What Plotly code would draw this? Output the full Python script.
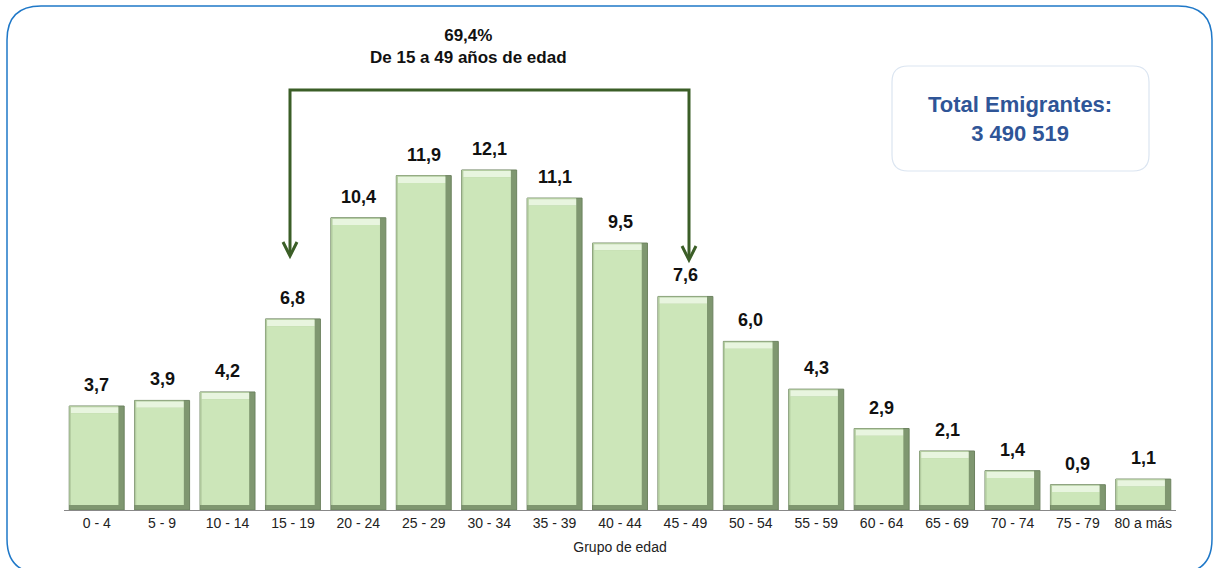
import plotly.graph_objects as go

categories = ["0 - 4", "5 - 9", "10 - 14", "15 - 19", "20 - 24", "25 - 29", "30 - 34",
              "35 - 39", "40 - 44", "45 - 49", "50 - 54", "55 - 59", "60 - 64",
              "65 - 69", "70 - 74", "75 - 79", "80 a más"]
values = [3.7, 3.9, 4.2, 6.8, 10.4, 11.9, 12.1, 11.1, 9.5, 7.6, 6.0, 4.3, 2.9, 2.1, 1.4, 0.9, 1.1]
labels = [f"{v:.1f}".replace(".", ",") for v in values]
bracket_text = "69,4%<br>De 15 a 49 años de edad"
total_text = "Total Emigrantes:<br>3 490 519"
x_title = "Grupo de edad"

W, H = 1213, 568
ML, MR, MT, MB = 64, 37, 40, 58
PW, PH = W - ML - MR, H - MT - MB
YMAX = PH / 28.1

def px(x):
    return (x - ML) / PW

def py(y):
    return (H - MB - y) / PH

NARROW = "Liberation Sans Narrow, Arial Narrow, Liberation Sans, Arial"

# bevelled bar styling (sizes in axis units)
BW = 0.84          # bar width (category units)
SIDE = 0.09        # right bevel width
BOT = 0.18         # bottom bevel height (value units)
TOP = 0.26         # top bevel height (value units)
LEFT = 0.025       # left bevel width

fig = go.Figure()
# base (right + bottom darker bevel)
fig.add_trace(go.Bar(
    x=categories, y=values, width=BW,
    marker=dict(color="#7f9770", line=dict(color="#6d8360", width=1)),
    hoverinfo="x+y",
))
# left/top mid tone
fig.add_trace(go.Bar(
    x=categories, y=[v - BOT for v in values], base=BOT,
    width=BW - SIDE, offset=-BW / 2,
    marker=dict(color="#b3cca0", line=dict(width=0)), hoverinfo="skip",
))
# top highlight
fig.add_trace(go.Bar(
    x=categories, y=[TOP - 0.04] * len(values), base=[v - TOP for v in values],
    width=BW - SIDE - LEFT, offset=-BW / 2 + LEFT,
    marker=dict(color="#e8f5df", line=dict(width=0)), hoverinfo="skip",
))
# face
fig.add_trace(go.Bar(
    x=categories, y=[v - TOP - BOT for v in values], base=BOT,
    width=BW - SIDE - LEFT, offset=-BW / 2 + LEFT,
    marker=dict(color="#cce6b9", line=dict(width=0)), hoverinfo="skip",
))

shapes = []
# outer rounded border
r = 34
x0, y0, x1, y1 = px(7), py(6), px(1212), py(573)
rx, ry = r / PW, r / PH
shapes.append(dict(
    type="path", xref="paper", yref="paper",
    path=(f"M {x0+rx},{y0} L {x1-rx},{y0} Q {x1},{y0} {x1},{y0-ry} "
          f"L {x1},{y1+ry} Q {x1},{y1} {x1-rx},{y1} L {x0+rx},{y1} "
          f"Q {x0},{y1} {x0},{y1+ry} L {x0},{y0-ry} Q {x0},{y0} {x0+rx},{y0} Z"),
    line=dict(color="#1f78c8", width=1.5), layer="above"))

# total box
r2 = 16
bx0, by0, bx1, by1 = px(892), py(66), px(1149), py(171)
rx2, ry2 = r2 / PW, r2 / PH
shapes.append(dict(
    type="path", xref="paper", yref="paper",
    path=(f"M {bx0+rx2},{by0} L {bx1-rx2},{by0} Q {bx1},{by0} {bx1},{by0-ry2} "
          f"L {bx1},{by1+ry2} Q {bx1},{by1} {bx1-rx2},{by1} L {bx0+rx2},{by1} "
          f"Q {bx0},{by1} {bx0},{by1+ry2} L {bx0},{by0-ry2} Q {bx0},{by0} {bx0+rx2},{by0} Z"),
    line=dict(color="#dbe5f1", width=1.2), fillcolor="white", layer="below"))

# bracket
gc = "#3b5e27"
lx, rxp, ty = 290, 689, 90
shapes.append(dict(type="path", xref="paper", yref="paper",
                   path=f"M {px(lx)},{py(254)} L {px(lx)},{py(ty)} L {px(rxp)},{py(ty)} L {px(rxp)},{py(258)}",
                   line=dict(color=gc, width=3)))
for ax_, tip in ((lx, 256), (rxp, 260)):
    shapes.append(dict(type="path", xref="paper", yref="paper",
                       path=f"M {px(ax_-7)},{py(tip-14)} L {px(ax_)},{py(tip)} L {px(ax_+7)},{py(tip-14)}",
                       line=dict(color=gc, width=3)))

annotations = [
    dict(text=f"<b>{bracket_text}</b>", x=px(468), y=py(46), xref="paper", yref="paper",
         showarrow=False, font=dict(family=NARROW, size=17, color="#111111"),
         xanchor="center", yanchor="middle"),
    dict(text=f"<b>{total_text}</b>", x=px(1020), y=py(119), xref="paper", yref="paper",
         showarrow=False, font=dict(family=NARROW, size=22, color="#2f5597"),
         xanchor="center", yanchor="middle"),
]
for c, v, t in zip(categories, values, labels):
    annotations.append(dict(text=f"<b>{t}</b>", x=c, y=v, xref="x", yref="y",
                            showarrow=False, yanchor="bottom", yshift=9,
                            font=dict(family=NARROW, size=18, color="#111111")))

fig.update_layout(
    width=W, height=H, margin=dict(l=ML, r=MR, t=MT, b=MB),
    paper_bgcolor="white", plot_bgcolor="white",
    shapes=shapes, annotations=annotations, showlegend=False,
    barmode="overlay",
    xaxis=dict(showline=True, linecolor="#888888", linewidth=1.2, ticks="",
               tickfont=dict(family=NARROW, size=14, color="#222222"),
               title=dict(text=x_title, font=dict(family=NARROW, size=14, color="#222222"), standoff=12)),
    yaxis=dict(range=[0, YMAX], visible=False, showgrid=False),
)

fig.write_html("out.html", config={"displayModeBar": False},
               post_script="document.body.style.margin='0';document.body.style.overflow='hidden';")
